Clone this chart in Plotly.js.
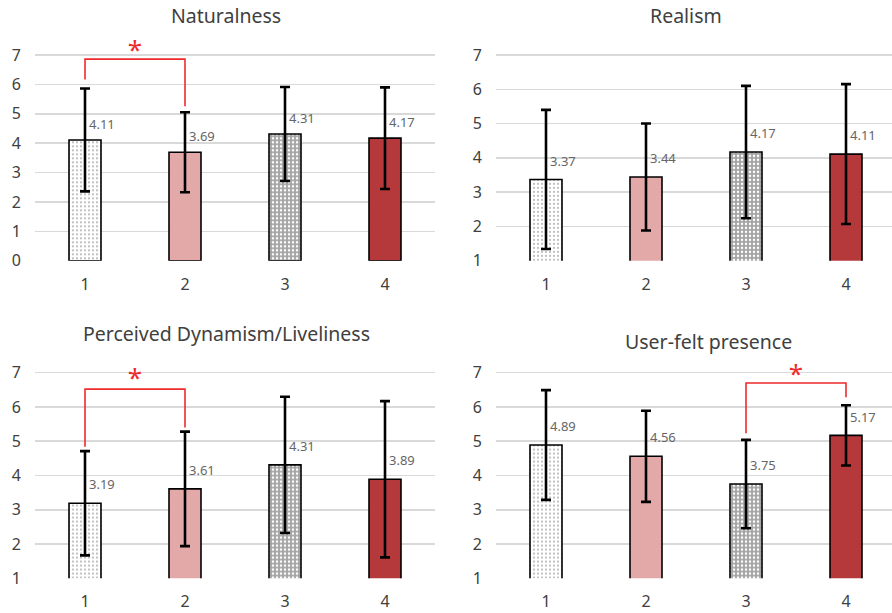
<!DOCTYPE html>
<html><head><meta charset="utf-8">
<script src="https://cdn.plot.ly/plotly-3.0.1.min.js"></script>
<style>html,body{margin:0;padding:0;background:#fff}#chart{width:892px;height:613px}</style>
</head><body><div id="chart"></div>
<script>
// ---- data ----
const categories = [1, 2, 3, 4];
const panelTitles = ['Naturalness', 'Realism', 'Perceived Dynamism/Liveliness', 'User-felt presence'];

const naturalnessMeans = [4.11, 3.69, 4.31, 4.17];
const naturalnessErr   = [1.75, 1.36, 1.60, 1.73];
const realismMeans     = [3.37, 3.44, 4.17, 4.11];
const realismErr       = [2.03, 1.56, 1.93, 2.04];
const dynamismMeans    = [3.19, 3.61, 4.31, 3.89];
const dynamismErr      = [1.52, 1.67, 1.99, 2.28];
const presenceMeans    = [4.89, 4.56, 3.75, 5.17];
const presenceErr      = [1.60, 1.33, 1.29, 0.88];

const yTicksNaturalness = [0, 1, 2, 3, 4, 5, 6, 7];
const yTicksOther       = [1, 2, 3, 4, 5, 6, 7];

// significance brackets (category pairs and heights)
const naturalnessSigX = [1, 1, 2, 2];
const naturalnessSigY = [6.17, 6.86, 6.86, 5.26];
const dynamismSigX    = [1, 1, 2, 2];
const dynamismSigY    = [4.84, 6.52, 6.52, 5.40];
const presenceSigX    = [3, 3, 4, 4];
const presenceSigY    = [5.23, 6.70, 6.70, 6.28];
const naturalnessStar = [1.5, 7.08];
const dynamismStar    = [1.5, 6.76];
const presenceStar    = [3.5, 6.88];

// ---- styling (per category) ----
const barColors  = ['#ffffff', '#e3a9a9', '#a3a3a3', '#b5383a'];
const patShapes  = ['.', '', '.', ''];
const patBg      = ['#ffffff', '#e3a9a9', '#a3a3a3', '#b5383a'];
const patFg      = ['#b3b3b3', '#e3a9a9', '#ffffff', '#b5383a'];
const patSolid   = [0.22, 0.3, 0.3, 0.3];
const textColor  = '#404040';
const font = '"Noto Sans", "Open Sans", sans-serif';
const labelOffset = 0.55;

const panels = [
  {means: naturalnessMeans, err: naturalnessErr, xa: 'x',  ya: 'y'},
  {means: realismMeans,     err: realismErr,     xa: 'x2', ya: 'y2'},
  {means: dynamismMeans,    err: dynamismErr,    xa: 'x3', ya: 'y3'},
  {means: presenceMeans,    err: presenceErr,    xa: 'x4', ya: 'y4'}
];
const sigs = [
  {x: naturalnessSigX, y: naturalnessSigY, star: naturalnessStar, xa: 'x',  ya: 'y'},
  {x: dynamismSigX,    y: dynamismSigY,    star: dynamismStar,    xa: 'x3', ya: 'y3'},
  {x: presenceSigX,    y: presenceSigY,    star: presenceStar,    xa: 'x4', ya: 'y4'}
];

const traces = [];
const annotations = [];
panels.forEach(p => {
  categories.forEach((c, i) => {
    const marker = {color: barColors[i], line: {color: '#000', width: 1.6}};
    if (patShapes[i]) {
      marker.pattern = {shape: patShapes[i], bgcolor: patBg[i], fgcolor: patFg[i],
        size: 4, solidity: patSolid[i], fillmode: 'replace'};
    }
    traces.push({
      type: 'bar', x: [c], y: [p.means[i]], xaxis: p.xa, yaxis: p.ya,
      width: 0.32, marker: marker,
      error_y: {type: 'data', array: [p.err[i]], visible: true, color: '#000', thickness: 2.6, width: 5},
      hoverinfo: 'skip', showlegend: false
    });
    annotations.push({
      xref: p.xa, yref: p.ya, x: c, y: p.means[i] + labelOffset, text: p.means[i].toFixed(2),
      xanchor: 'left', yanchor: 'middle', xshift: 2, showarrow: false,
      font: {size: 13, color: '#666666', family: font}
    });
  });
});
sigs.forEach(s => {
  traces.push({
    type: 'scatter', mode: 'lines', x: s.x, y: s.y, xaxis: s.xa, yaxis: s.ya,
    line: {color: '#ee2a2a', width: 1.6}, hoverinfo: 'skip', showlegend: false
  });
  traces.push({
    type: 'scatter', mode: 'text', x: [s.star[0]], y: [s.star[1]], text: ['*'],
    textposition: 'middle center', textfont: {size: 26, color: '#ee2a2a', family: font},
    xaxis: s.xa, yaxis: s.ya, cliponaxis: false, hoverinfo: 'skip', showlegend: false
  });
});

const W = 892, H = 613;
const leftDom  = [35 / W, 435 / W];
const rightDom = [496 / W, 1];
// y=7 at 55px (top row) and 372.7px (bottom row); ranges extended to 7.5 for headroom
const unitTop1 = (260.7 - 55) / 7, unitOther = (260.7 - 55) / 6;
const dom1   = [1 - 260.7 / H, 1 - (55 - 0.5 * unitTop1) / H];
const dom2   = [1 - 260.7 / H, 1 - (55 - 0.5 * unitOther) / H];
const domBot = [1 - 578.3 / H, 1 - (372.7 - 0.5 * unitOther) / H];

function xax(dom, anchor, rng) {
  return {domain: dom, anchor: anchor, range: rng, tickvals: categories, ticktext: categories.map(String),
    showgrid: false, zeroline: false, showline: false, ticks: '', ticklabelstandoff: 12,
    tickfont: {size: 16, color: textColor, family: font}, fixedrange: true};
}
function yax(dom, anchor, rng, ticks) {
  return {domain: dom, anchor: anchor, range: rng, tickvals: ticks, showgrid: true,
    gridcolor: '#d9d9d9', gridwidth: 1.5, zeroline: false, showline: false, ticks: '',
    ticklabelstandoff: 13, tickfont: {size: 16, color: textColor, family: font}, fixedrange: true};
}

const titlePos = [[226, 15], [686, 15], [226, 333], [708, 341]];
panelTitles.forEach((t, i) => annotations.push({
  text: t, xref: 'paper', yref: 'paper', x: titlePos[i][0] / W, y: 1 - titlePos[i][1] / H,
  xanchor: 'center', yanchor: 'middle', showarrow: false,
  font: {size: 19.5, color: textColor, family: font}
}));

const layout = {
  width: W, height: H, margin: {l: 0, r: 0, t: 0, b: 0},
  paper_bgcolor: '#fff', plot_bgcolor: '#fff', showlegend: false,
  barmode: 'overlay',
  xaxis:  xax(leftDom,  'y',  [0.5, 4.5]),
  yaxis:  yax(dom1,     'x',  [0, 7.5], yTicksNaturalness),
  xaxis2: xax(rightDom, 'y2', [0.5, 4.46]),
  yaxis2: yax(dom2,     'x2', [1, 7.5], yTicksOther),
  xaxis3: xax(leftDom,  'y3', [0.5, 4.5]),
  yaxis3: yax(domBot,   'x3', [1, 7.5], yTicksOther),
  xaxis4: xax(rightDom, 'y4', [0.5, 4.46]),
  yaxis4: yax(domBot,   'x4', [1, 7.5], yTicksOther),
  annotations: annotations
};

Plotly.newPlot('chart', traces, layout, {displayModeBar: false, staticPlot: true});
</script>
</body></html>
